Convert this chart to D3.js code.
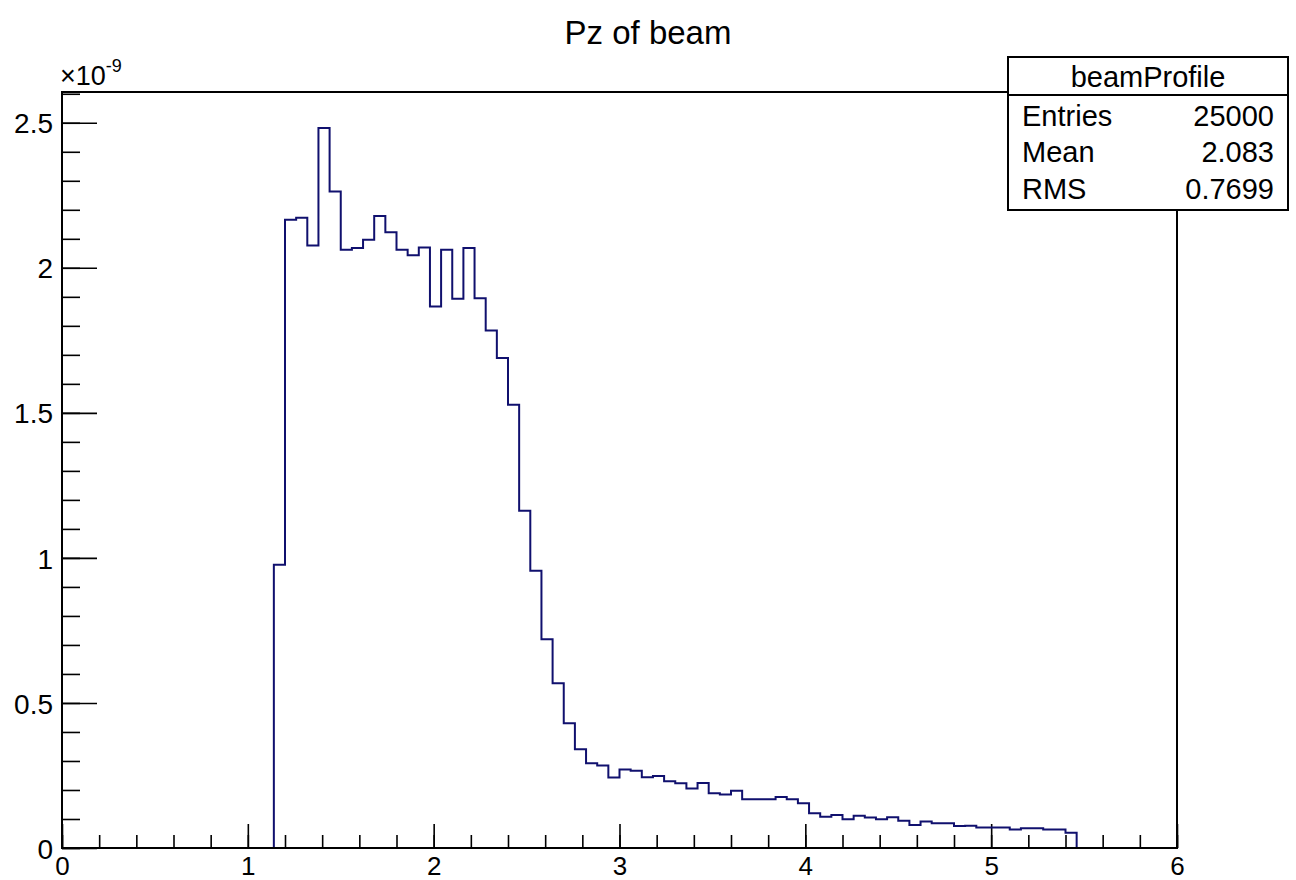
<!DOCTYPE html>
<html>
<head>
<meta charset="utf-8">
<script src="https://cdn.jsdelivr.net/npm/d3@7/dist/d3.min.js"></script>
<style>
  html, body { margin: 0; padding: 0; background: #ffffff; }
  svg { display: block; }
  text { font-family: "Liberation Sans", Arial, Helvetica, sans-serif; fill: #000; }
</style>
</head>
<body>
<svg id="chart" width="1296" height="880"></svg>
<script>
// ---------------- DATA ----------------
const chartTitle = "Pz of beam";
const histName = "beamProfile";
const statLabels = ["Entries", "Mean", "RMS"];
const statValues = ["25000", "2.083", "0.7699"];

// histogram binning (100 bins from 0 to 6, width 0.06); non-empty bins listed by low edge
const xRange = [0, 6];
const binWidth = 0.06;
const binLowEdges = [
  1.14, 1.20, 1.26, 1.32, 1.38, 1.44, 1.50, 1.56, 1.62, 1.68,
  1.74, 1.80, 1.86, 1.92, 1.98, 2.04, 2.10, 2.16, 2.22, 2.28,
  2.34, 2.40, 2.46, 2.52, 2.58, 2.64, 2.70, 2.76, 2.82, 2.88,
  2.94, 3.00, 3.06, 3.12, 3.18, 3.24, 3.30, 3.36, 3.42, 3.48,
  3.54, 3.60, 3.66, 3.72, 3.78, 3.84, 3.90, 3.96, 4.02, 4.08,
  4.14, 4.20, 4.26, 4.32, 4.38, 4.44, 4.50, 4.56, 4.62, 4.68,
  4.74, 4.80, 4.86, 4.92, 4.98, 5.04, 5.10, 5.16, 5.22, 5.28,
  5.34, 5.40
];
// bin contents in units of 1e-9
const binValues = [
  0.976, 2.166, 2.173, 2.077, 2.482, 2.263, 2.062, 2.068, 2.097, 2.179,
  2.123, 2.062, 2.043, 2.070, 1.867, 2.062, 1.893, 2.068, 1.895, 1.784,
  1.689, 1.528, 1.163, 0.956, 0.720, 0.568, 0.430, 0.340, 0.292, 0.284,
  0.243, 0.271, 0.266, 0.244, 0.248, 0.230, 0.223, 0.205, 0.224, 0.189,
  0.184, 0.197, 0.168, 0.168, 0.168, 0.176, 0.168, 0.154, 0.120, 0.108,
  0.114, 0.099, 0.111, 0.105, 0.099, 0.106, 0.094, 0.079, 0.091, 0.085,
  0.085, 0.076, 0.077, 0.071, 0.071, 0.071, 0.064, 0.068, 0.068, 0.064,
  0.064, 0.053
];
const yExponent = "-9";

const xMajorTicks = [0, 1, 2, 3, 4, 5, 6];
const xTickLabels = ["0", "1", "2", "3", "4", "5", "6"];
const yMajorTicks = [0, 0.5, 1, 1.5, 2, 2.5];
const yTickLabels = ["0", "0.5", "1", "1.5", "2", "2.5"];

// ---------------- LAYOUT ----------------
const frame = { left: 62, right: 1177, top: 92, bottom: 848 };
const svg = d3.select("#chart");

const yMax = d3.max(binValues) * 1.05;
const x = d3.scaleLinear().domain(xRange).range([frame.left, frame.right]);
const y = d3.scaleLinear().domain([0, yMax]).range([frame.bottom, frame.top]);

// minor tick values derived from the axis scales
const xMinorTicks = d3.range(0, 31).map(i => i * 0.2).filter(v => v <= xRange[1] + 1e-9);
const yMinorTicks = d3.range(0, Math.floor(yMax * 10 + 1e-9) + 1).map(i => i / 10);

// title
svg.append("text")
  .attr("x", 648).attr("y", 44)
  .attr("text-anchor", "middle")
  .style("font-size", "33px")
  .text(chartTitle);

// x axis minor ticks
svg.append("g")
  .attr("transform", `translate(0,${frame.bottom})`)
  .call(d3.axisBottom(x).tickValues(xMinorTicks).tickSize(-13).tickFormat(""))
  .call(g => g.select(".domain").remove())
  .call(g => g.selectAll("line").attr("stroke", "#000").attr("stroke-width", 1.6));

// x axis major ticks and labels
svg.append("g")
  .attr("transform", `translate(0,${frame.bottom})`)
  .call(d3.axisBottom(x).tickValues(xMajorTicks).tickSize(-24)
        .tickFormat((d, i) => xTickLabels[i]).tickPadding(0))
  .call(g => g.select(".domain").remove())
  .call(g => g.selectAll("line").attr("stroke", "#000").attr("stroke-width", 1.6))
  .call(g => g.selectAll("text")
      .attr("y", 9).attr("dy", "0.71em")
      .style("font-size", "26px")
      .attr("fill", "#000"));

// y axis minor ticks
svg.append("g")
  .attr("transform", `translate(${frame.left},0)`)
  .call(d3.axisLeft(y).tickValues(yMinorTicks).tickSize(-18).tickFormat(""))
  .call(g => g.select(".domain").remove())
  .call(g => g.selectAll("line").attr("stroke", "#000").attr("stroke-width", 1.6));

// y axis major ticks and labels
svg.append("g")
  .attr("transform", `translate(${frame.left},0)`)
  .call(d3.axisLeft(y).tickValues(yMajorTicks).tickSize(-35)
        .tickFormat((d, i) => yTickLabels[i]).tickPadding(0))
  .call(g => g.select(".domain").remove())
  .call(g => g.selectAll("line").attr("stroke", "#000").attr("stroke-width", 1.6))
  .call(g => g.selectAll("text")
      .attr("x", -9).attr("dy", "0.36em")
      .style("font-size", "28px")
      .attr("fill", "#000"));

// exponent label
const expLabel = svg.append("text")
  .attr("x", 60).attr("y", 85)
  .style("font-size", "27px");
expLabel.append("tspan").text("\u00d710");
expLabel.append("tspan").attr("dy", -13).style("font-size", "18px").text(yExponent);

// histogram outline
const pts = [[x(binLowEdges[0]), y(0)]];
binLowEdges.forEach((lo, i) => {
  pts.push([x(lo), y(binValues[i])]);
  pts.push([x(lo + binWidth), y(binValues[i])]);
});
pts.push([x(binLowEdges[binLowEdges.length - 1] + binWidth), y(0)]);

svg.append("path")
  .attr("d", d3.line()(pts))
  .attr("fill", "none")
  .attr("stroke", "#10106e")
  .attr("stroke-width", 2)
  .attr("stroke-linejoin", "miter");

// frame
svg.append("rect")
  .attr("x", frame.left).attr("y", frame.top)
  .attr("width", frame.right - frame.left)
  .attr("height", frame.bottom - frame.top)
  .attr("fill", "none")
  .attr("stroke", "#000")
  .attr("stroke-width", 2);

// stats box
const box = { left: 1008, right: 1288, top: 57, bottom: 210, header: 95 };
const stats = svg.append("g");
stats.append("rect")
  .attr("x", box.left).attr("y", box.top)
  .attr("width", box.right - box.left).attr("height", box.bottom - box.top)
  .attr("fill", "#fff").attr("stroke", "#000").attr("stroke-width", 2);
stats.append("line")
  .attr("x1", box.left).attr("x2", box.right)
  .attr("y1", box.header).attr("y2", box.header)
  .attr("stroke", "#000").attr("stroke-width", 2);
stats.append("text")
  .attr("x", (box.left + box.right) / 2).attr("y", 87)
  .attr("text-anchor", "middle")
  .style("font-size", "29px")
  .text(histName);
const rowBaselines = [126, 162, 199];
statLabels.forEach((lab, i) => {
  stats.append("text")
    .attr("x", 1022).attr("y", rowBaselines[i])
    .style("font-size", "29px")
    .text(lab);
  stats.append("text")
    .attr("x", 1274).attr("y", rowBaselines[i])
    .attr("text-anchor", "end")
    .style("font-size", "29px")
    .text(statValues[i]);
});
</script>
</body>
</html>
